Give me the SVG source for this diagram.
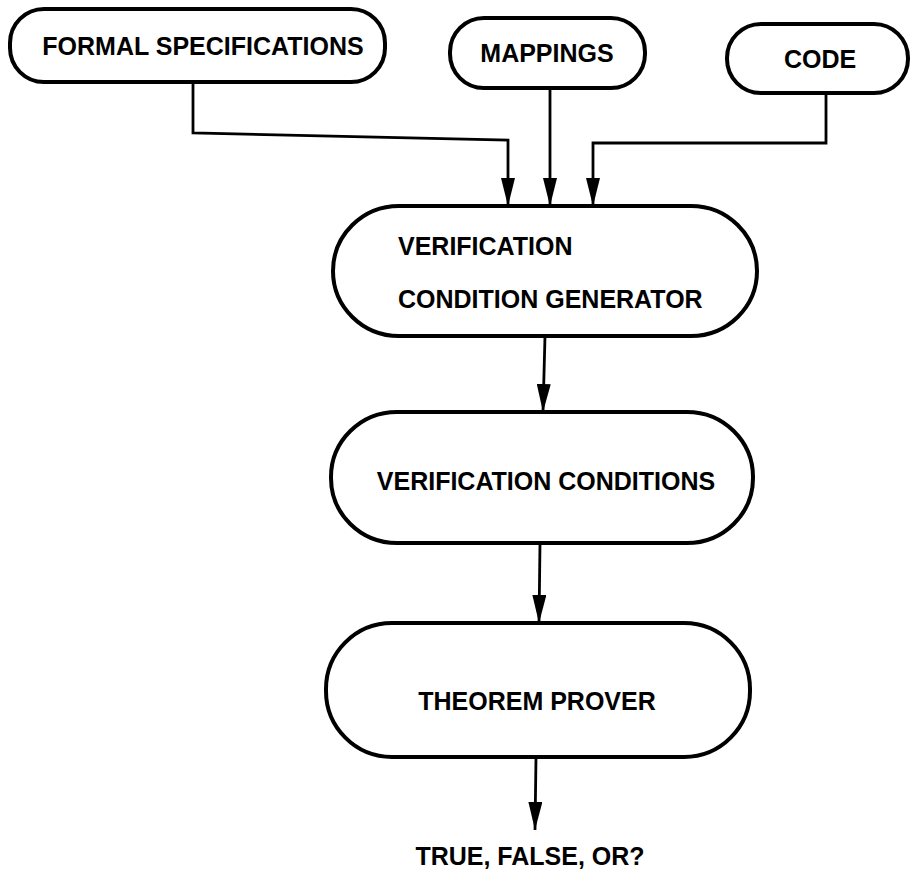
<svg xmlns="http://www.w3.org/2000/svg" width="912" height="873" viewBox="0 0 912 873">
  <style>
    .box { fill: #fff; stroke: #000; stroke-width: 4; }
    .lbl { font-family: "Liberation Sans", Arial, Helvetica, sans-serif; font-weight: bold; font-size: 25px; fill: #000; }
    .mid { text-anchor: middle; }
    .edge { fill: none; stroke: #000; stroke-width: 2.8; stroke-linejoin: miter; }
  </style>
  <defs>
    <marker id="arrow" markerUnits="userSpaceOnUse" markerWidth="28" markerHeight="14" refX="28" refY="7" orient="auto">
      <path d="M0,0 L28,7 L0,14 Z" fill="#000"/>
    </marker>
  </defs>
  <rect width="912" height="873" fill="#fff"/>

  <!-- inputs -->
  <g id="formal-specifications">
    <rect class="box" x="10" y="9" width="375" height="73" rx="34" ry="34"/>
    <text class="lbl mid" x="203" y="55">FORMAL SPECIFICATIONS</text>
  </g>
  <g id="mappings">
    <rect class="box" x="450" y="18" width="195" height="70" rx="34" ry="34"/>
    <text class="lbl mid" x="547" y="62">MAPPINGS</text>
  </g>
  <g id="code">
    <rect class="box" x="727" y="24" width="181" height="69" rx="34" ry="34"/>
    <text class="lbl mid" x="820" y="68">CODE</text>
  </g>

  <!-- processing stages -->
  <g id="vc-generator">
    <rect class="box" x="333" y="206" width="424" height="130" rx="66" ry="65"/>
    <text class="lbl" x="398" y="255">VERIFICATION</text>
    <text class="lbl" x="398" y="308">CONDITION GENERATOR</text>
  </g>
  <g id="verification-conditions">
    <rect class="box" x="331" y="412" width="422" height="131" rx="66" ry="65"/>
    <text class="lbl mid" x="546" y="490">VERIFICATION CONDITIONS</text>
  </g>
  <g id="theorem-prover">
    <rect class="box" x="326" y="623" width="424" height="134" rx="66" ry="66"/>
    <text class="lbl mid" x="537" y="710">THEOREM PROVER</text>
  </g>

  <!-- result -->
  <g id="result">
    <text class="lbl mid" x="530" y="865">TRUE, FALSE, OR?</text>
  </g>

  <!-- connectors -->
  <g id="connectors">
    <path class="edge" d="M193,82 L193,133 L508,140 L508,206" marker-end="url(#arrow)"/>
    <path class="edge" d="M550,88 L550,206" marker-end="url(#arrow)"/>
    <path class="edge" d="M826,93 L826,143 L593,143 L593,206" marker-end="url(#arrow)"/>
    <path class="edge" d="M545,336 L543,412" marker-end="url(#arrow)"/>
    <path class="edge" d="M540,543 L539,623" marker-end="url(#arrow)"/>
    <path class="edge" d="M536,757 L535,830" marker-end="url(#arrow)"/>
  </g>
</svg>
